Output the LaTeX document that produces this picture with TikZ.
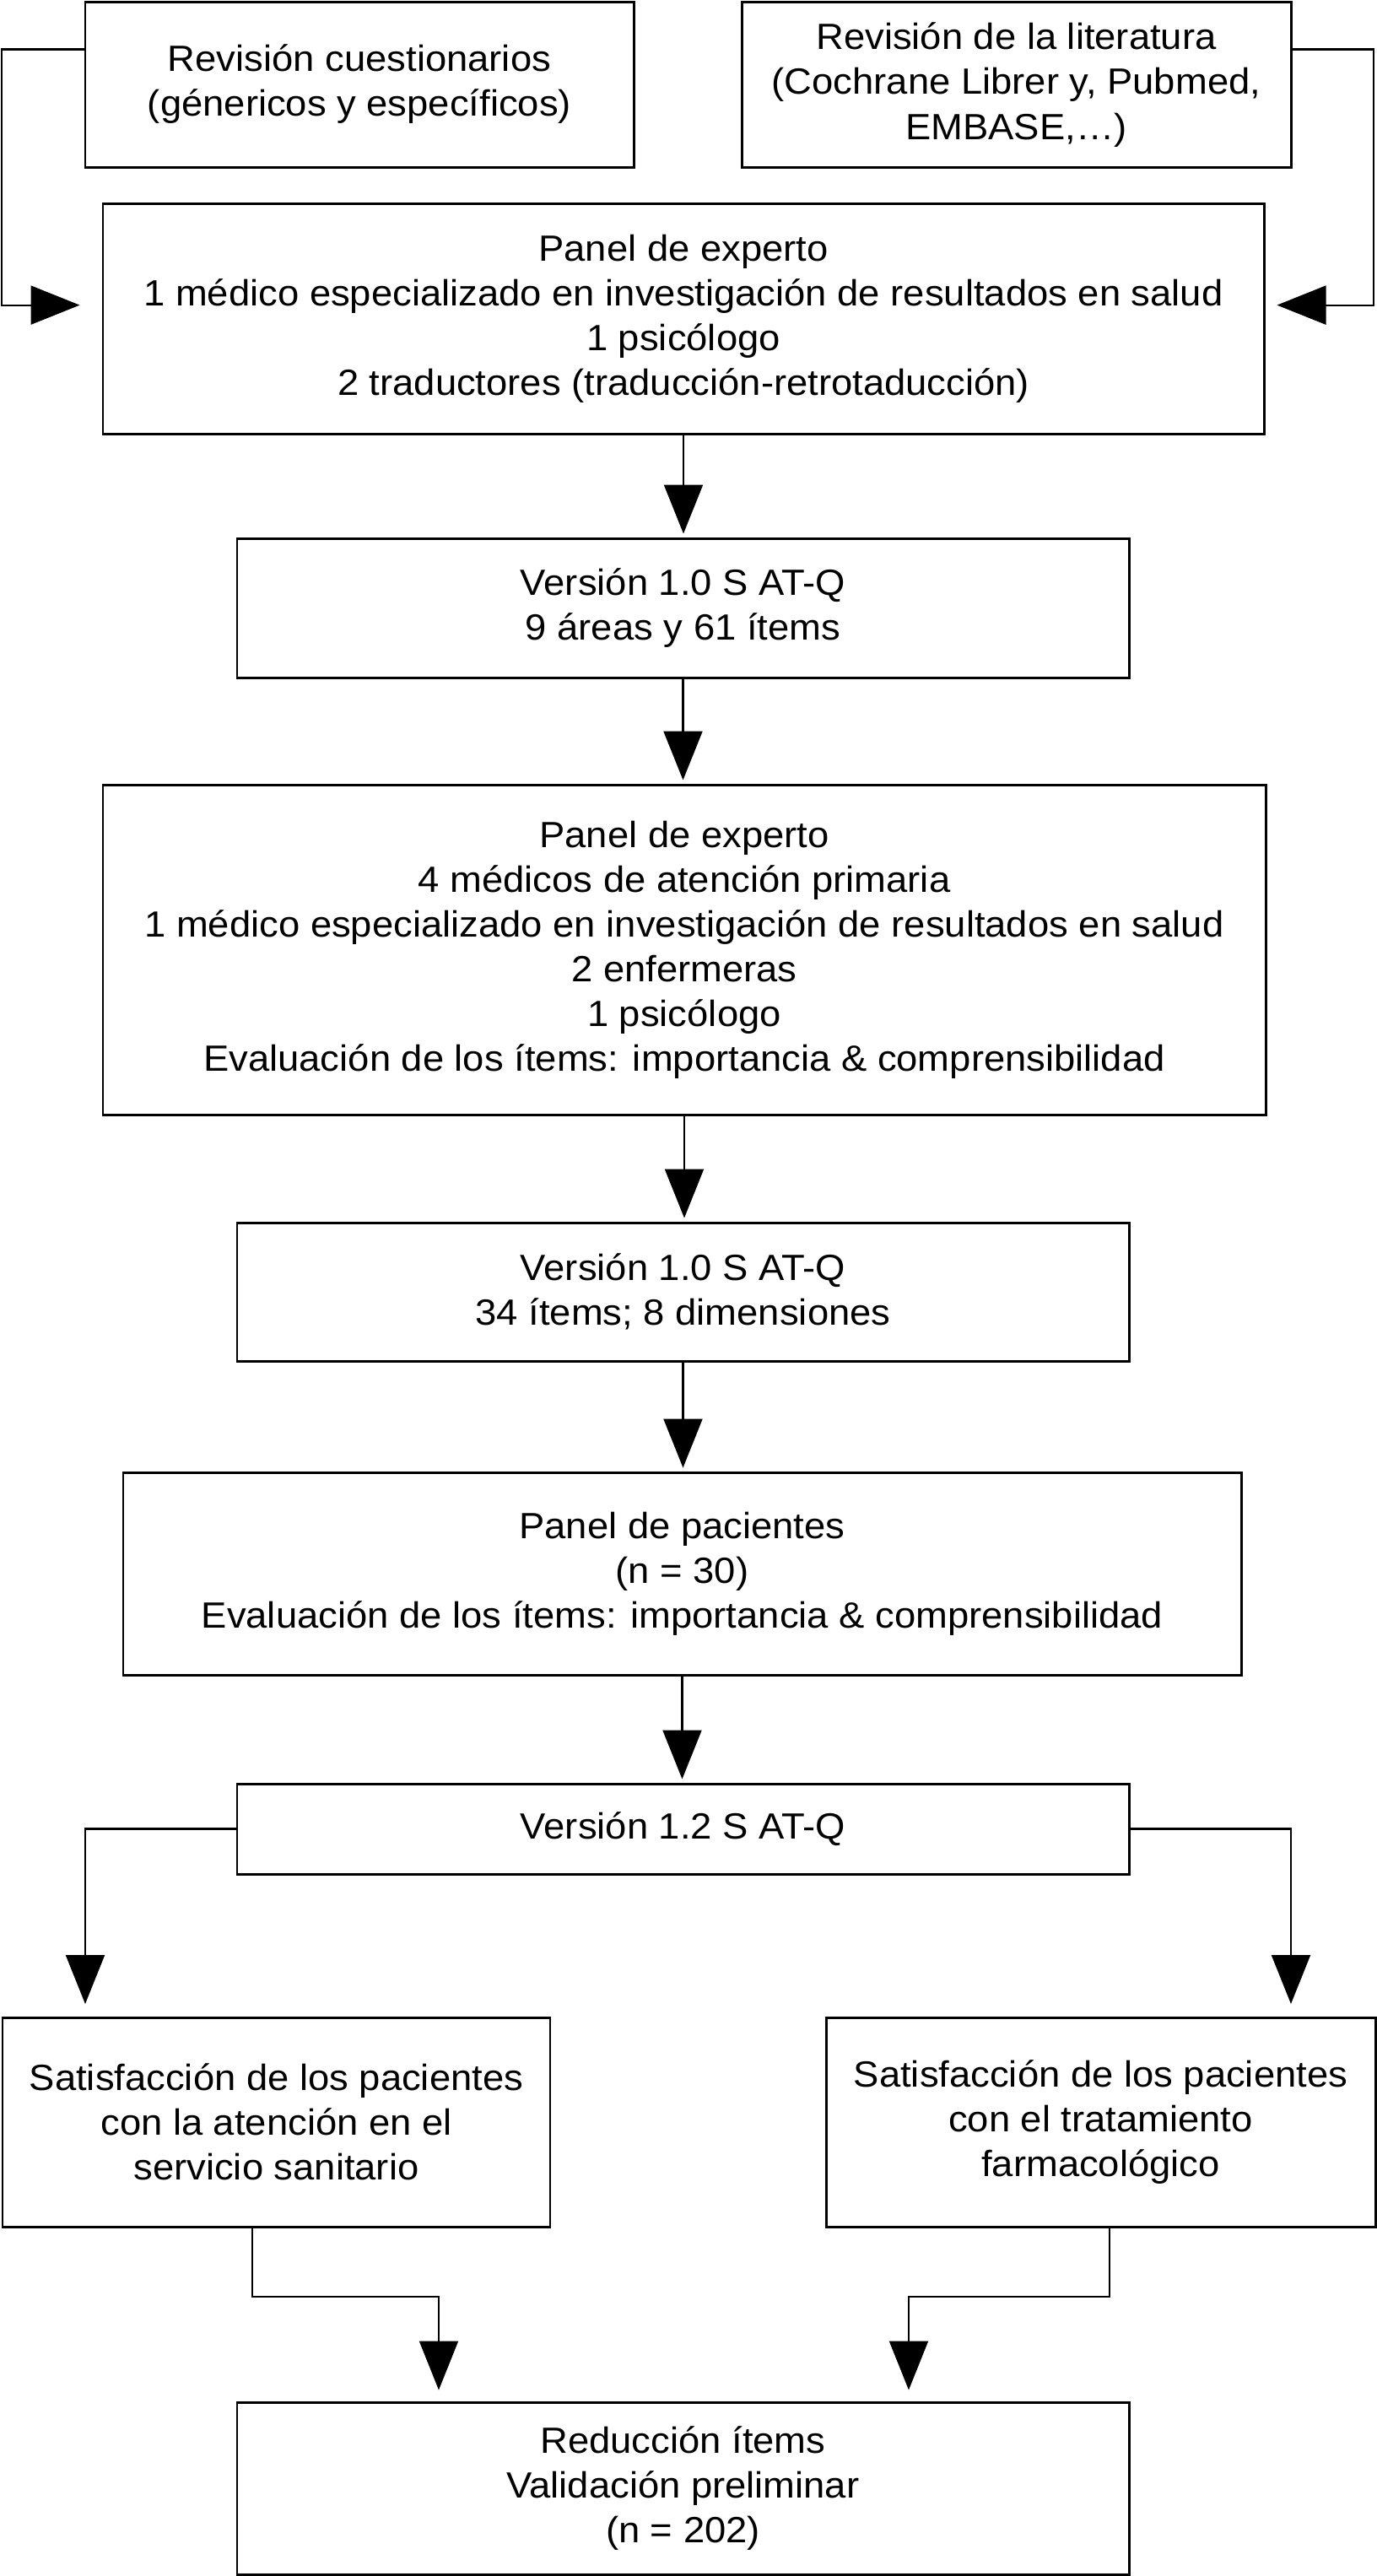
\documentclass[tikz,border=0pt]{standalone}
\usepackage{fontspec}
\setmainfont[FakeStretch=1.05]{Liberation Sans}
\usepackage{tikz}
\usetikzlibrary{arrows.meta}

\begin{document}
\begin{tikzpicture}[
  box/.style={draw,line width=0.85pt,rectangle,inner sep=0pt,align=center,font=\fontsize{12.3}{15.1}\selectfont},
  flow/.style={line width=0.6pt,-{Triangle[length=5.8mm,width=4.6mm]}}]
  \useasboundingbox (0,0) rectangle (16.320,-30.530);
  \node[box,minimum width=6.50cm,minimum height=1.96cm] (rc) at (4.260,-1.000) {Revisión cuestionarios\\(génericos y específicos)};
  \node[box,minimum width=6.51cm,minimum height=1.96cm] (rl) at (12.045,-1.005) {Revisión de la literatura\\(Cochrane Librer y, Pubmed,\\EMBASE,…)};
  \node[box,minimum width=13.76cm,minimum height=2.73cm] (pe1) at (8.100,-3.775) {Panel de experto\\1 médico especializado en investigación de resultados en salud\\1 psicólogo\\2 traductores (traducción-retrotaducción)};
  \node[box,minimum width=10.57cm,minimum height=1.65cm] (v10a) at (8.095,-7.205) {Versión 1.0 S AT-Q\\9 áreas y 61 ítems};
  \node[box,minimum width=13.78cm,minimum height=3.91cm] (pe2) at (8.110,-11.255) {Panel de experto\\4 médicos de atención primaria\\1 médico especializado en investigación de resultados en salud\\2 enfermeras\\1 psicólogo\\Evaluación de los ítems: importancia \& comprensibilidad};
  \node[box,minimum width=10.57cm,minimum height=1.64cm] (v10b) at (8.095,-15.310) {Versión 1.0 S AT-Q\\34 ítems; 8 dimensiones};
  \node[box,minimum width=13.25cm,minimum height=2.40cm] (pp) at (8.085,-18.650) {Panel de pacientes\\(n = 30)\\Evaluación de los ítems: importancia \& comprensibilidad};
  \node[box,minimum width=10.57cm,minimum height=1.07cm] (v12) at (8.095,-21.675) {Versión 1.2 S AT-Q};
  \node[box,minimum width=6.49cm,minimum height=2.48cm] (sa) at (3.275,-25.150) {Satisfacción de los pacientes\\con la atención en el\\servicio sanitario};
  \node[box,minimum width=6.51cm,minimum height=2.48cm] (st) at (13.045,-25.150) {Satisfacción de los pacientes\\con el tratamiento\\farmacológico};
  \node[box,minimum width=10.57cm,minimum height=2.04cm] (ri) at (8.095,-29.490) {Reducción ítems\\Validación preliminar\\(n = 202)};
  \coordinate (lt) at (0.020,-0.585);
  \coordinate (lb) at (0.020,-3.616);
  \coordinate (rt) at (16.280,-0.585);
  \coordinate (rb) at (16.280,-3.616);
  \draw[flow,shorten >=0.26cm] (rc.west |- lt) -- (lt) -- (lb) -- (pe1.west |- lb);
  \draw[flow,shorten >=0.14cm] (rl.east |- rt) -- (rt) -- (rb) -- (pe1.east |- rb);
  \draw[flow,shorten >=0.04cm] (pe1.south) -- (pe1.south |- v10a.north);
  \draw[flow,shorten >=0.04cm] (v10a.south) -- (v10a.south |- pe2.north);
  \draw[flow,shorten >=0.04cm] (pe2.south) -- (pe2.south |- v10b.north);
  \draw[flow,shorten >=0.04cm] (v10b.south) -- (v10b.south |- pp.north);
  \draw[flow,shorten >=0.04cm] (pp.south) -- (pp.south |- v12.north);
  \coordinate (sl) at (1.010,-23.910);
  \coordinate (sr) at (15.300,-23.910);
  \draw[flow,shorten >=0.16cm] (v12.west) -| (sl);
  \draw[flow,shorten >=0.16cm] (v12.east) -| (sr);
  \coordinate (lk1) at (2.990,-27.220);
  \coordinate (lk2) at (5.200,-27.220);
  \coordinate (rk1) at (13.150,-27.220);
  \coordinate (rk2) at (10.770,-27.220);
  \draw[flow,shorten >=0.13cm] (sa.south -| lk1) -- (lk1) -- (lk2) -- (ri.north -| lk2);
  \draw[flow,shorten >=0.13cm] (st.south -| rk1) -- (rk1) -- (rk2) -- (ri.north -| rk2);
\end{tikzpicture}
\end{document}
